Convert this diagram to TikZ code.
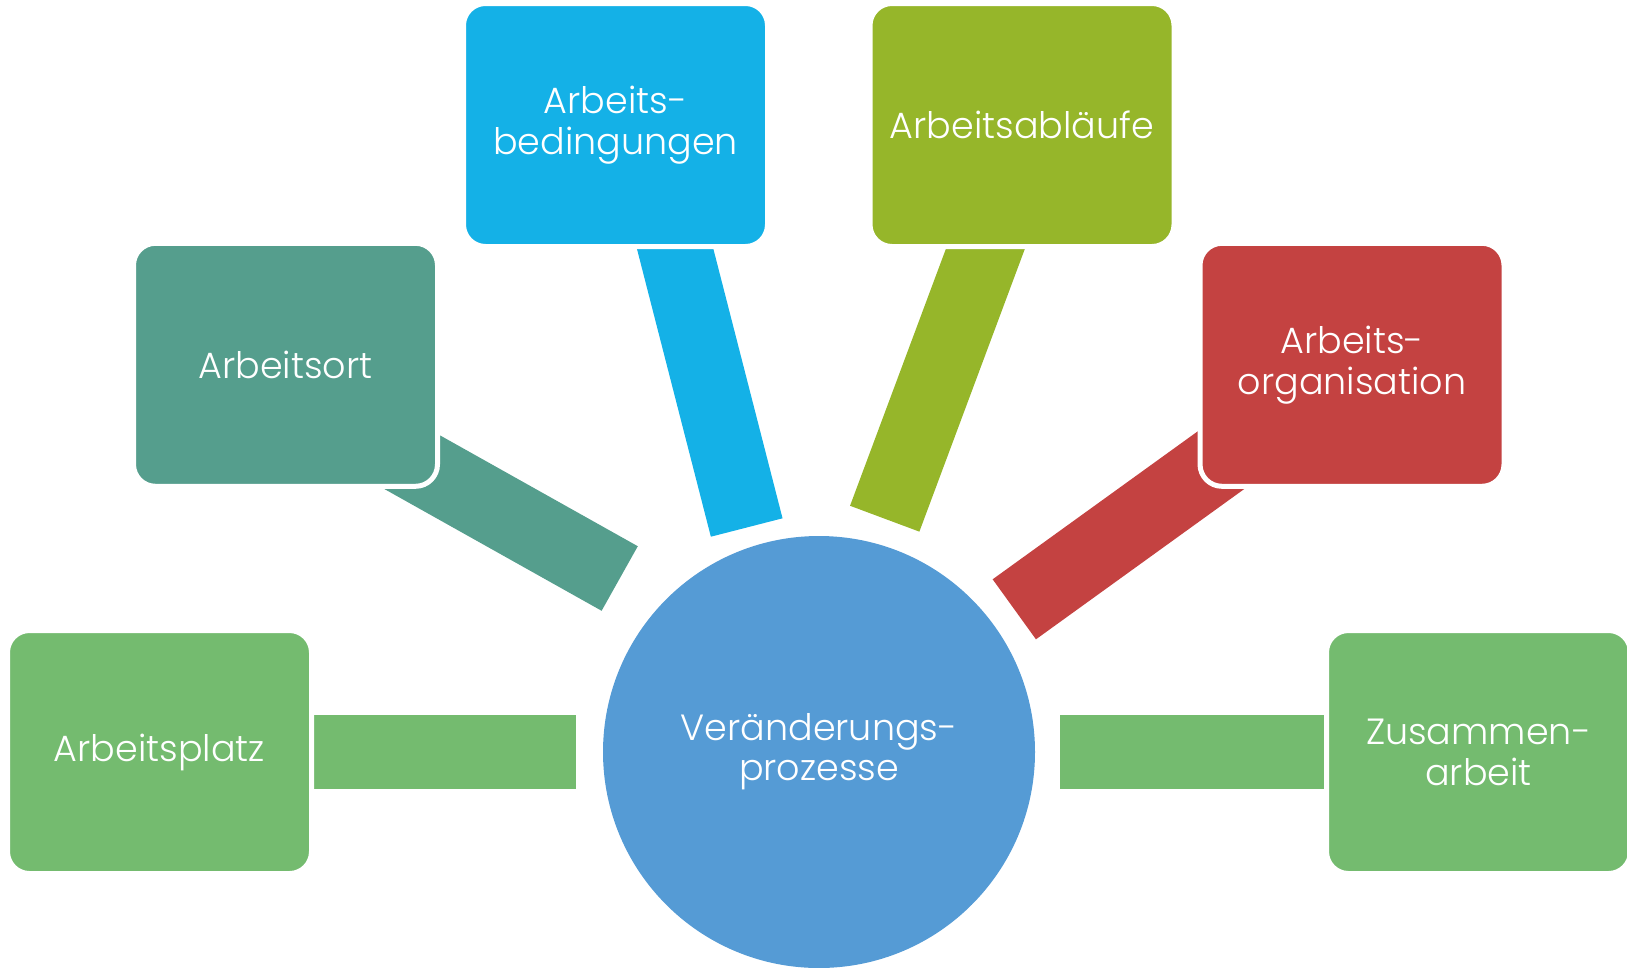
\documentclass[tikz,border=0pt]{standalone}
\usepackage{fontspec}
\setmainfont{Poppins Light}
\definecolor{cgreen}{RGB}{116,187,111}
\definecolor{cteal}{RGB}{85,158,141}
\definecolor{ccyan}{RGB}{20,177,231}
\definecolor{colive}{RGB}{150,182,42}
\definecolor{cred}{RGB}{196,66,65}
\definecolor{cblue}{RGB}{85,155,213}
\begin{document}
\begin{tikzpicture}[x=1pt,y=-1pt,
  card/.style={rectangle, rounded corners=22pt, minimum width=304pt, minimum height=243pt,
    draw=white, line width=5pt, text=white, align=center, inner sep=0pt,
    font=\fontsize{36.5}{41}\selectfont},
  hub/.style={circle, minimum size=432pt, inner sep=0pt, text=white, align=center,
    font=\fontsize{36.5}{40}\selectfont},
  bar/.style={line width=74pt, line cap=butt}]
\useasboundingbox (0,0) rectangle (1627,967);
% bar end points
\coordinate (p1) at (290,752);   \coordinate (q1) at (576,752);
\coordinate (p2) at (300,399.3); \coordinate (q2) at (619.7,578.5);
\coordinate (p3) at (662.6,200); \coordinate (q3) at (746.7,527.5);
\coordinate (p4) at (1003.6,200);\coordinate (q4) at (884.7,518.7);
\coordinate (p5) at (1330,381.5); \coordinate (q5) at (1014.3,609.3);
\coordinate (p6) at (1340,752);  \coordinate (q6) at (1060,752);
% connectors
\draw[bar, cgreen] (p1) -- (q1);
\draw[bar, cteal]  (p2) -- (q2);
\draw[bar, ccyan]  (p3) -- (q3);
\draw[bar, colive] (p4) -- (q4);
\draw[bar, cred]   (p5) -- (q5);
\draw[bar, cgreen] (p6) -- (q6);
% boxes
\node[card, fill=cgreen] (b1) at (159.5,752) {Arbeitsplatz};
\node[card, fill=cteal]  (b2) at (285.5,364.8) {Arbeitsort};
\node[card, fill=ccyan]  (b3) at (615.5,125) {Arbeits-\\bedingungen};
\node[card, fill=colive] (b4) at (1022,125) {Arbeitsabläufe};
\node[card, fill=cred]   (b5) at (1352,364.8) {Arbeits-\\organisation};
\node[card, fill=cgreen] (b6) at (1478.5,752) {Zusammen-\\arbeit};
% hub
\node[hub, fill=cblue] (c) at (819,752) {Veränderungs-\\prozesse};
\end{tikzpicture}
\end{document}
